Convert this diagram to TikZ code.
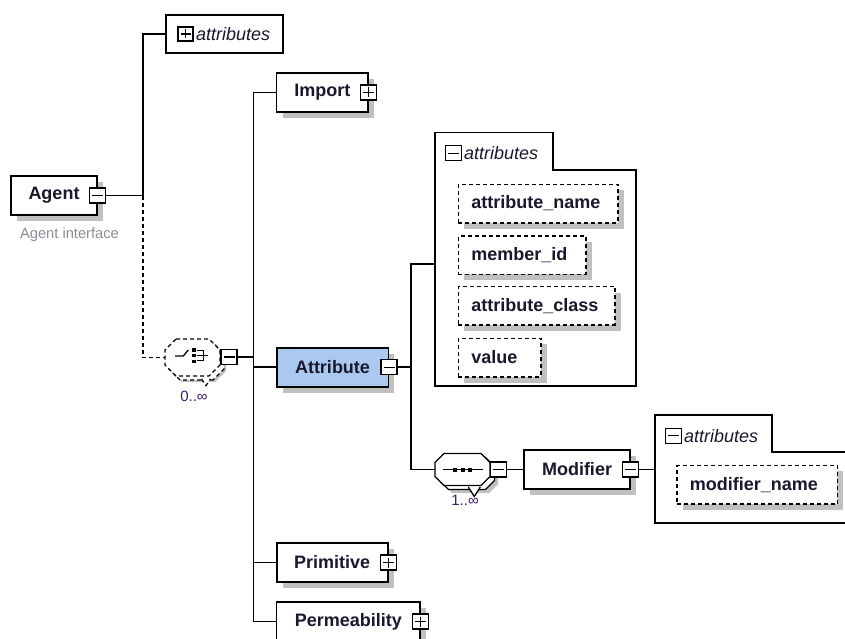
\documentclass[tikz,border=0pt]{standalone}
\usepackage{fontspec}
\setmainfont{Liberation Sans}
\usetikzlibrary{shadows}
\definecolor{txt}{RGB}{25,25,45}
\definecolor{mult}{RGB}{60,30,100}
\definecolor{note}{RGB}{140,140,150}
\definecolor{shade}{RGB}{192,192,192}
\definecolor{selblue}{RGB}{170,200,240}
% #1 options, #2 cx, #3 cy, #4 half width, #5 half height, #6 chamfer
\newcommand{\octa}[6]{\path[#1] (#2-#4+#6,#3-#5) -- (#2+#4-#6,#3-#5) -- (#2+#4,#3-#5+#6) -- (#2+#4,#3+#5-#6) -- (#2+#4-#6,#3+#5) -- (#2-#4+#6,#3+#5) -- (#2-#4,#3+#5-#6) -- (#2-#4,#3-#5+#6) -- cycle;}
\tikzset{
  every node/.style={text=txt, font=\fontsize{18}{21}\selectfont},
  conn/.style={line width=1.6pt, draw=black},
  dsh/.style={dash pattern=on 4pt off 3pt},
  sh/.style={general shadow={fill=shade, shadow xshift=6pt, shadow yshift=-6pt}},
  elem/.style={draw, line width=1.6pt, fill=white, minimum height=39pt, inner sep=0pt,
    font=\bfseries\fontsize{18}{21}\selectfont, sh},
  attrbox/.style={draw, dsh, line width=1.5pt, fill=white, minimum height=38.5pt,
    inner ysep=0pt, inner xsep=13pt, align=left, anchor=west,
    font=\bfseries\fontsize{18}{21}\selectfont, sh},
  grpbox/.style={draw, line width=1.6pt, fill=white, inner sep=0pt},
  grptext/.style={font=\itshape\fontsize{18}{21}\selectfont, inner sep=0pt, anchor=west},
  multtext/.style={font=\fontsize{15}{17}\selectfont, text=mult, inner sep=0pt},
  notetext/.style={font=\fontsize{14.7}{17}\selectfont, text=note, inner sep=0pt},
  tog/.style={draw, line width=1.3pt, fill=white, minimum width=16pt, minimum height=15pt, inner sep=0pt},
  minusbox/.style={tog, path picture={\draw[line width=1.3pt]
      ([xshift=2.5pt]path picture bounding box.west) -- ([xshift=-2.5pt]path picture bounding box.east);}},
  plusbox/.style={tog, path picture={\draw[line width=1.3pt]
      ([xshift=2.5pt]path picture bounding box.west) -- ([xshift=-2.5pt]path picture bounding box.east)
      ([yshift=-2.5pt]path picture bounding box.north) -- ([yshift=2.5pt]path picture bounding box.south);}},
}
\begin{document}
\begin{tikzpicture}[x=1pt,y=-1pt]
\useasboundingbox (0,0) rectangle (845,639);
\fill[white] (0,0) rectangle (845,639);
\clip (0,0) rectangle (845,639);

% ---------- Agent ----------
\node[elem, minimum width=86pt] (agent) at (54,195.5) {Agent};
\node[minusbox] (agentm) at (agent.east) {};
\node[notetext] (agentnote) at (69.5,235) {Agent interface};

% ---------- top attributes ----------
\node[grpbox, minimum width=117pt, minimum height=38pt] (attr0) at (224.5,34) {};
\node[plusbox, minimum width=15pt, minimum height=14pt] (attr0p) at (185.5,34) {};
\node[grptext] (attr0t) at (196,34) {attributes};

% ---------- choice compositor ----------
\node[inner sep=0pt, minimum width=55pt, minimum height=37pt] (choice) at (192.5,357.5) {};
\octa{fill=shade}{198.5}{363.5}{27.5}{18.5}{11}
\octa{fill=white, draw, dsh, line width=1.3pt}{196.5}{361.5}{27.5}{18.5}{11}
\path[fill=white, draw, dsh, line width=1.3pt] (201.5,379) -- (206,385.5) -- (210.5,379);
\octa{fill=white, draw, dsh, line width=1.3pt}{192.5}{357.5}{27.5}{18.5}{11}
\draw[line width=1.3pt] (175,356) -- (183.3,356) -- (188.3,350);
\fill (191.7,348.3) rectangle (195.7,351.7);
\fill (191.7,354) rectangle (195.7,357.3);
\fill (191.7,360) rectangle (195.7,363.3);
\draw[line width=1.3pt] (196.7,350.7) -- (203.3,350.7) -- (203.3,360.7) -- (196.7,360.7)
  (196.7,355.7) -- (208.3,355.7);
\node[minusbox] (choicem) at (229,357) {};
\node[multtext] (choicemult) at (194,396) {0..∞};

% ---------- agent connectors ----------
\coordinate (j1) at (143,195.5);
\draw[conn] (agentm.east) -- (j1) |- (attr0.west);
\draw[conn, dsh] (j1) |- (choice.west);

% ---------- children of choice ----------
\node[elem, minimum width=91.3pt] (import) at (322.3,92.5) {Import};
\node[plusbox] (importp) at (import.east) {};
\node[elem, fill=selblue, minimum width=111.6pt] (attr) at (332.5,367.2) {Attribute};
\node[minusbox] (attrm) at (attr.east) {};
\node[elem, minimum width=111pt] (prim) at (332.2,562.5) {Primitive};
\node[plusbox] (primp) at (prim.east) {};
\node[elem, minimum width=143.3pt] (perm) at (348.3,621.5) {Permeability};
\node[plusbox] (permp) at (perm.east) {};

\coordinate (tTop) at (253.3,92.5);
\coordinate (tBot) at (253.3,621.5);
\draw[conn] (tTop) -- (tBot);
\draw[conn] (tTop) -- (import.west);
\draw[conn] (choicem.east) -- (choicem.east -| tTop);
\draw[conn] (attr.west -| tTop) -- (attr.west);
\draw[conn] (prim.west -| tTop) -- (prim.west);
\draw[conn] (tBot) -- (perm.west);

% ---------- Attribute's attributes group ----------
\path[grpbox] (435,386) -- (435,132.7) -- (552.7,132.7) -- (552.7,170) -- (636,170) -- (636,386) -- cycle;
\coordinate (g1c) at (435,264);
\node[minusbox] (g1m) at (453.8,153.3) {};
\node[grptext] (g1t) at (464,153.3) {attributes};
\node[attrbox, text width=133.6pt] (aname) at (457.7,203.5) {attribute\_name};
\node[attrbox, text width=101.3pt] (amid) at (457.7,255) {member\_id};
\node[attrbox, text width=130.3pt] (aclass) at (457.7,305.8) {attribute\_class};
\node[attrbox, text width=56.3pt] (avalue) at (457.7,357.5) {value};

% ---------- sequence compositor ----------
\node[inner sep=0pt, minimum width=55pt, minimum height=32pt] (seq) at (462.5,469.5) {};
\octa{fill=shade}{470.5}{477}{27.5}{16}{9}
\octa{fill=white, draw, line width=1.3pt}{467}{473.5}{27.5}{16}{9}
\path[fill=white, draw, line width=1.3pt] (468.3,487) -- (474.3,496.5) -- (480.3,487);
\octa{fill=white, draw, line width=1.3pt}{462.5}{469.5}{27.5}{16}{9}
\draw[line width=1.3pt] (442.7,469.5) -- (483,469.5);
\fill (453.3,467.5) rectangle (457.3,471.5);
\fill (460.5,467.5) rectangle (464.5,471.5);
\fill (467.7,467.5) rectangle (471.7,471.5);
\node[minusbox] (seqm) at (498.3,469.5) {};
\node[multtext] (seqmult) at (465,500) {1..∞};

\coordinate (j2) at (410.7,367.2);
\draw[conn] (attrm.east) -- (j2);
\draw[conn] (g1c) -| (seq.west -| j2) -- (seq.west);

% ---------- Modifier ----------
\node[elem, minimum width=106pt] (mod) at (577,469.5) {Modifier};
\node[minusbox] (modm) at (mod.east) {};
\draw[conn] (seqm.east) -- (mod.west);

\path[grpbox] (655,522.7) -- (655,415) -- (771.7,415) -- (771.7,451.7) -- (870,451.7) -- (870,522.7) -- cycle;
\coordinate (g2c) at (655,469.5);
\draw[conn] (modm.east) -- (g2c);
\node[minusbox] (g2m) at (673.7,435.8) {};
\node[grptext] (g2t) at (684,435.8) {attributes};
\node[attrbox, text width=134.7pt] (mname) at (676,484.7) {modifier\_name};
\end{tikzpicture}
\end{document}
